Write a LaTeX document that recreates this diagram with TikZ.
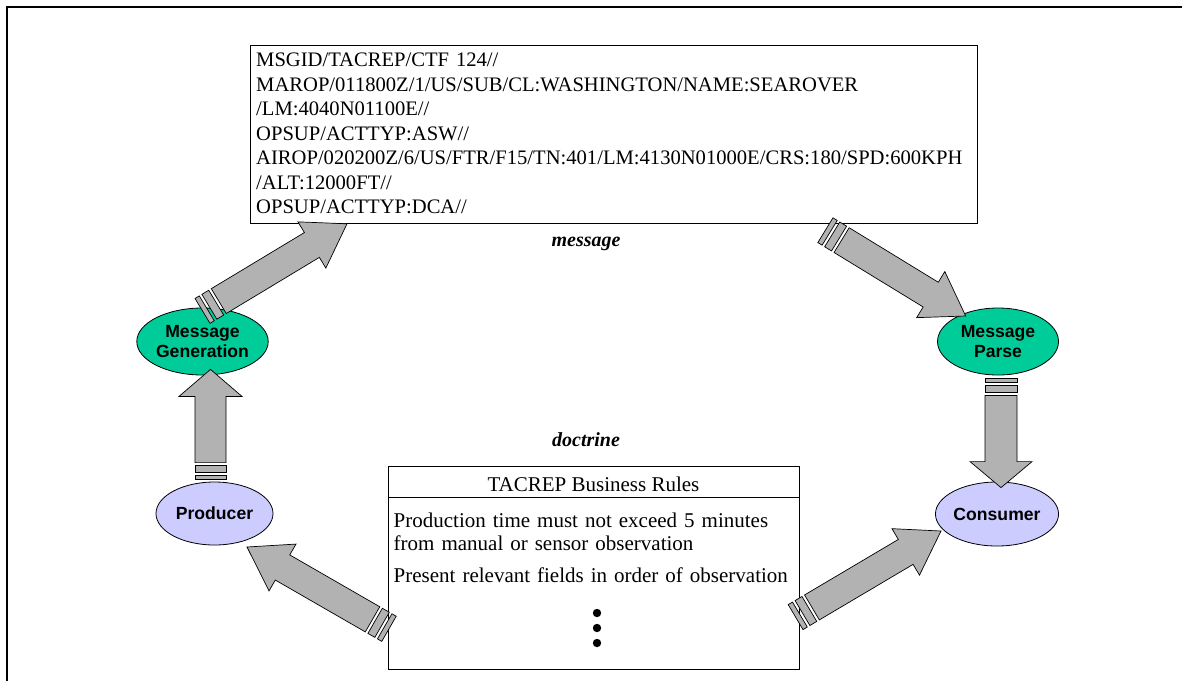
\documentclass[tikz,border=0pt]{standalone}
\usepackage{fontspec}
\setmainfont{Liberation Serif}
\setsansfont{Liberation Sans}
\usetikzlibrary{calc,shapes.geometric}

\definecolor{gengreen}{RGB}{0,204,153}
\definecolor{rolelilac}{RGB}{204,204,255}
\definecolor{flowgray}{RGB}{178,178,178}

% Block arrow with a broken tail: two short stripes, then the shaft and head.
% #1 tail, #2 tip, #3 shaft width, #4 head width, #5 head length,
% #6 thin stripe length, #7 thick stripe length
\newcommand\blockarrow[7]{%
  \pgfmathanglebetweenpoints{\pgfpointanchor{#1}{center}}{\pgfpointanchor{#2}{center}}%
  \let\baAngle\pgfmathresult
  \pgfpointdiff{\pgfpointanchor{#1}{center}}{\pgfpointanchor{#2}{center}}%
  \pgfgetlastxy{\baDx}{\baDy}%
  \pgfmathsetmacro\baLen{veclen(\baDx,\baDy)}%
  \pgfmathsetmacro\baW{#3/2}%
  \pgfmathsetmacro\baH{#4/2}%
  \pgfmathsetmacro\baBase{\baLen-#5}%
  \pgfmathsetmacro\baA{#6}%
  \pgfmathsetmacro\baB{#6+3}%
  \pgfmathsetmacro\baC{#6+3+#7}%
  \pgfmathsetmacro\baD{#6+6+#7}%
  \begin{scope}[shift={(#1)}, rotate=\baAngle]
    \filldraw[flowarrow] (0,-\baW) rectangle (\baA,\baW);
    \filldraw[flowarrow] (\baB,-\baW) rectangle (\baC,\baW);
    \filldraw[flowarrow] (\baD,-\baW) -- (\baBase,-\baW) -- (\baBase,-\baH)
      -- (\baLen,0) -- (\baBase,\baH) -- (\baBase,\baW) -- (\baD,\baW) -- cycle;
  \end{scope}}

\begin{document}
\begin{tikzpicture}[x=1pt,y=-1pt,
  frameline/.style={line width=1.8pt},
  textbox/.style={draw=black, line width=0.8pt, inner sep=0pt},
  boxtext/.style={inner sep=0pt, align=left},
  stepellipse/.style={ellipse, draw=black, line width=0.8pt, inner sep=0pt,
    align=center, font=\sffamily\bfseries\fontsize{17.6}{20}\selectfont},
  genstep/.style={stepellipse, fill=gengreen},
  rolestep/.style={stepellipse, fill=rolelilac},
  caption/.style={font=\bfseries\itshape\fontsize{20}{22}\selectfont, inner sep=0pt},
  flowarrow/.style={fill=flowgray, draw=black, line width=0.7pt, line join=miter}]

\useasboundingbox (0,0) rectangle (1182,681);

% page frame
\draw[frameline] (7,681) -- (7,7) -- (1182,7);

% formatted message
\node[textbox, anchor=north west, minimum width=727pt, minimum height=178pt] (msg) at (250,45) {};
\node[boxtext, anchor=base west, text width=715pt,
      font=\fontsize{20.6}{24.5}\selectfont] (msgtext) at (256,66.5)
  {MSGID/TACREP/CTF 124//\\
   MAROP/011800Z/1/US/SUB/CL:WASHINGTON/NAME:SEAROVER\\
   /LM:4040N01100E//\\
   OPSUP/ACTTYP:ASW//\\
   AIROP/020200Z/6/US/FTR/F15/TN:401/LM:4130N01000E/CRS:180/SPD:600KPH\\
   /ALT:12000FT//\\
   OPSUP/ACTTYP:DCA//};
\node[caption] (msglabel) at (586,244) {message};

% business rules
\node[caption] (doclabel) at (586,440) {doctrine};
\node[textbox, anchor=north west, minimum width=411pt, minimum height=203pt] (rules) at (388,466) {};
\draw[line width=0.8pt] ($(rules.north west)+(0,31.5)$) -- ($(rules.north east)+(0,31.5)$);
\node[inner sep=0pt, anchor=base, font=\fontsize{21}{23.5}\selectfont] (rulestitle) at (593.5,491.5)
  {TACREP Business Rules};
\node[boxtext, anchor=base west, text width=405pt,
      font=\fontsize{21}{23.5}\selectfont] (rulesbody) at (393.5,527)
  {Production time must not exceed 5 minutes\\
   from manual or sensor observation\\[8pt]
   Present relevant fields in order of observation};
\fill (597,613) circle (4.2pt);
\fill (597,628) circle (4.2pt);
\fill (597,643) circle (4.2pt);

% processing steps and roles
\node[genstep, minimum width=125pt, minimum height=67pt] (gen) at (202.5,341.5) {Message\\Generation};
\node[genstep, minimum width=121pt, minimum height=67pt] (parse) at (998,341.5) {Message\\Parse};
\node[rolestep, minimum width=117pt, minimum height=63pt] (prod) at (214.5,513.5) {Producer};
\node[rolestep, minimum width=118pt, minimum height=64pt] (cons) at (997,514) {Consumer};

% arrow ends
\coordinate (aTail) at ($(prod.north)+(-4,-2)$);
\coordinate (aTip)  at ($(gen.south)+(8,-6)$);
\coordinate (bTail) at ($(parse.south)+(3,3)$);
\coordinate (bTip)  at ($(cons.north)+(4,6)$);
\coordinate (cTail) at ($(gen.north)+(0,3.3)$);
\coordinate (cTip)  at ($(msg.south west)+(97,0)$);
\coordinate (eTail) at ($(msg.south east)+(-152.4,6.4)$);
\coordinate (eTip)  at ($(parse.center)+(-32.3,-25.5)$);
\coordinate (dTail) at ($(rules.south west)+(1,-41)$);
\coordinate (dTip)  at ($(prod.center)+(32.5,33.5)$);
\coordinate (fTail) at ($(rules.south east)+(-4.2,-52.7)$);
\coordinate (fTip)  at ($(cons.center)+(-56,17)$);

% flows
\blockarrow{aTail}{aTip}{31}{63}{27}{4}{7}
\blockarrow{bTail}{bTip}{32}{62}{26}{4}{7}
\blockarrow{cTail}{cTip}{29}{54}{41}{5}{8}
\blockarrow{eTail}{eTip}{29}{54}{41}{5}{8}
\blockarrow{dTail}{dTip}{29}{54}{41}{5}{8}
\blockarrow{fTail}{fTip}{29}{54}{41}{5}{8}

\end{tikzpicture}
\end{document}
